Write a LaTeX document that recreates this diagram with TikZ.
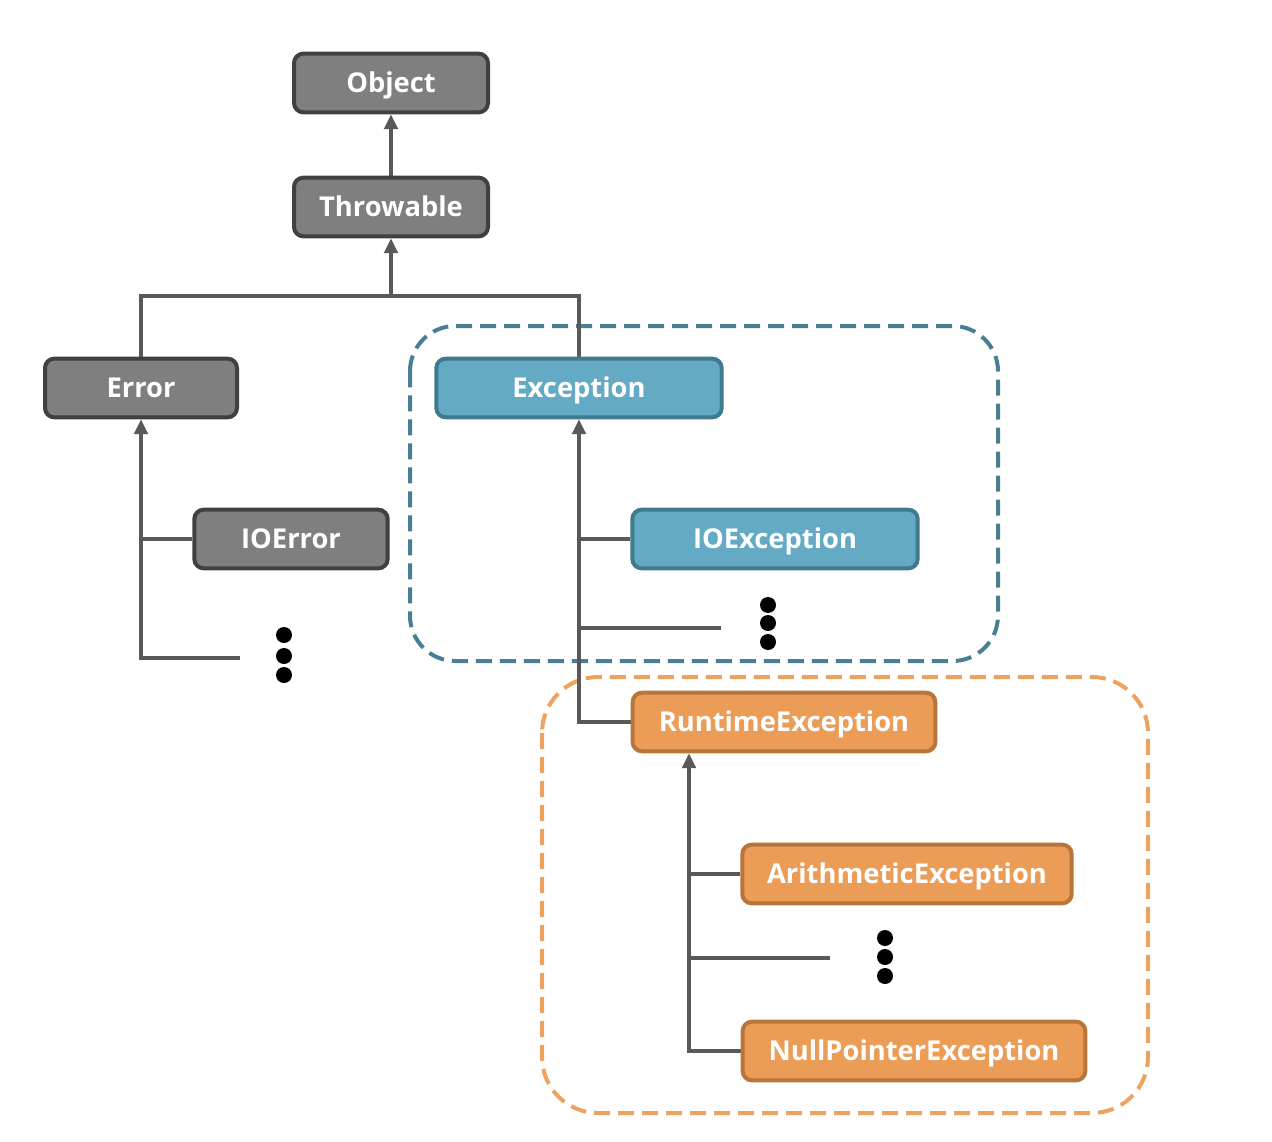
\documentclass[tikz,border=0pt]{standalone}
\usepackage{fontspec}
\setmainfont{Open Sans}
\usetikzlibrary{arrows.meta,backgrounds}
\definecolor{grayfill}{HTML}{7F7F7F}
\definecolor{graydraw}{HTML}{404040}
\definecolor{bluefill}{HTML}{64AAC5}
\definecolor{bluedraw}{HTML}{41798D}
\definecolor{orangefill}{HTML}{EB9C56}
\definecolor{orangedraw}{HTML}{B9743A}
\definecolor{conncol}{HTML}{595959}
\definecolor{bluedash}{HTML}{4A7F93}
\definecolor{orangedash}{HTML}{EDA25F}
\begin{document}
\begin{tikzpicture}[x=0.75pt,y=-0.75pt,
  box/.style={rectangle, rounded corners=7pt, line width=3pt, minimum height=44pt,
    inner sep=0pt, text=white, text height=14.6pt, text depth=0pt,
    font=\fontsize{20.5}{24}\selectfont\bfseries},
  graybox/.style={box, fill=grayfill, draw=graydraw},
  bluebox/.style={box, fill=bluefill, draw=bluedraw},
  orangebox/.style={box, fill=orangefill, draw=orangedraw},
  conn/.style={line width=3pt, draw=conncol},
  arr/.style={conn, -{Triangle[length=11pt,width=10pt]}},
  dotmark/.style={circle, fill=black, inner sep=0pt, minimum size=12pt},
  group/.style={line width=3pt, dash pattern=on 12pt off 6pt, rounded corners=34pt},
]
\useasboundingbox (0,0) rectangle (1272,1142);
% nodes
\path
  (391,83) node[graybox, minimum width=145.5pt] (object) {Object}
  (391,207) node[graybox, minimum width=145.5pt] (throwable) {Throwable}
  (141,388) node[graybox, minimum width=144pt] (error) {Error}
  (291,539) node[graybox, minimum width=145pt] (ioerror) {IOError}
  (579,388) node[bluebox, minimum width=214pt] (exception) {Exception}
  (775,539) node[bluebox, minimum width=214pt] (ioexception) {IOException}
  (784,722) node[orangebox, minimum width=227pt] (runtime) {RuntimeException}
  (907,874) node[orangebox, minimum width=247pt] (arith) {ArithmeticException}
  (914,1051) node[orangebox, minimum width=257pt] (nullp) {NullPointerException};
\coordinate (bus) at (391,296);
\coordinate (errStub) at (240,658);
\coordinate (excStub) at (721,628);
\coordinate (rtv) at (689,1052);
\coordinate (rtStub) at (830,958);
\begin{scope}[on background layer]
  % dashed groups
  \draw[group, draw=bluedash] (410,326) rectangle (998,661);
  \draw[group, draw=orangedash, rounded corners=42pt] (542,677) rectangle (1148,1113);
  % connectors
  \draw[arr] (throwable.north) -- (object.south);
  \draw[arr] (bus) -- (throwable.south);
  \draw[conn] (error.north) |- (bus) -| (exception.north);
  \draw[arr] (errStub) -| (error.south);
  \draw[conn] (ioerror.west) -- (ioerror.west -| error.south);
  \draw[arr] (runtime.west) -| (exception.south);
  \draw[conn] (ioexception.west) -- (ioexception.west -| exception.south);
  \draw[conn] (excStub) -- (excStub -| exception.south);
  \draw[arr] (nullp.west) -| (rtv |- runtime.south);
  \draw[conn] (arith.west) -- (arith.west -| rtv);
  \draw[conn] (rtStub) -- (rtStub -| rtv);
\end{scope}
% ellipsis dots
\node[dotmark] (ed1) at (284,635) {};
\node[dotmark] (ed2) at (284,656) {};
\node[dotmark] (ed3) at (284,675) {};
\node[dotmark] (xd1) at (768,605) {};
\node[dotmark] (xd2) at (768,623) {};
\node[dotmark] (xd3) at (768,642) {};
\node[dotmark] (rd1) at (885,938) {};
\node[dotmark] (rd2) at (885,957) {};
\node[dotmark] (rd3) at (885,976) {};
\end{tikzpicture}
\end{document}
